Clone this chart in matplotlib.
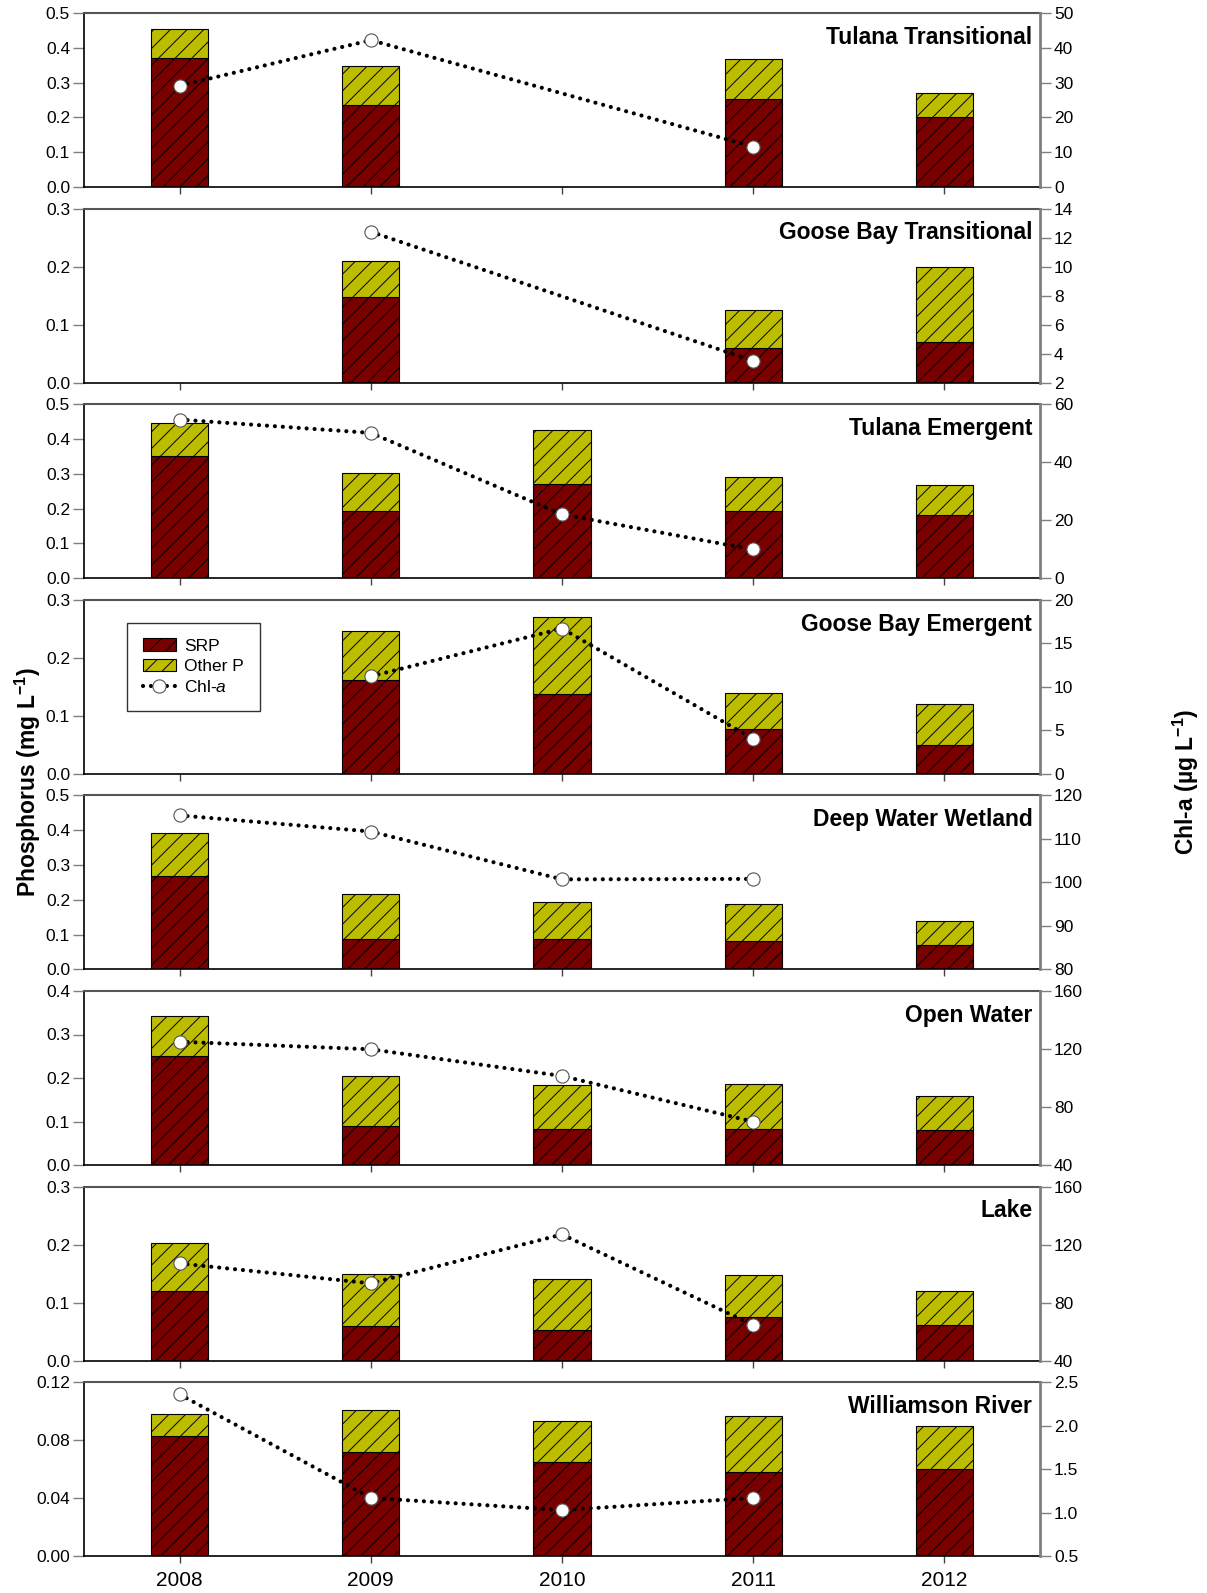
import numpy as np
import matplotlib.pyplot as plt

plt.rcParams['font.family'] = ['Liberation Sans', 'DejaVu Sans']
plt.rcParams['mathtext.fontset'] = 'custom'
plt.rcParams['mathtext.rm'] = 'Liberation Sans'
plt.rcParams['mathtext.it'] = 'Liberation Sans:italic'
plt.rcParams['mathtext.bf'] = 'Liberation Sans:bold'
plt.rcParams['hatch.linewidth'] = 0.7

nan = np.nan
years = [2008, 2009, 2010, 2011, 2012]
sites = ['Tulana Transitional', 'Goose Bay Transitional', 'Tulana Emergent',
         'Goose Bay Emergent', 'Deep Water Wetland', 'Open Water', 'Lake',
         'Williamson River']

# SRP and total P (mg/L), Chl-a (ug/L); nan = no sample
srp = [[0.370, 0.235, nan, 0.254, 0.201],
       [nan, 0.147, nan, 0.060, 0.070],
       [0.352, 0.192, 0.272, 0.192, 0.181],
       [nan, 0.162, 0.137, 0.078, 0.050],
       [0.267, 0.088, 0.086, 0.082, 0.069],
       [0.250, 0.090, 0.082, 0.082, 0.080],
       [0.120, 0.060, 0.053, 0.076, 0.061],
       [0.083, 0.072, 0.065, 0.058, 0.060]]
total_p = [[0.453, 0.347, nan, 0.367, 0.270],
           [nan, 0.210, nan, 0.125, 0.200],
           [0.445, 0.303, 0.425, 0.292, 0.269],
           [nan, 0.246, 0.270, 0.140, 0.120],
           [0.392, 0.216, 0.195, 0.189, 0.138],
           [0.342, 0.204, 0.184, 0.186, 0.159],
           [0.202, 0.149, 0.140, 0.147, 0.120],
           [0.098, 0.101, 0.093, 0.097, 0.090]]
chla = [[29.1, 42.2, nan, 11.6, nan],
        [nan, 12.4, nan, 3.5, nan],
        [54.7, 50.1, 22.0, 9.9, nan],
        [nan, 11.2, 16.7, 4.0, nan],
        [115.4, 111.7, 100.7, 100.8, nan],
        [125.0, 119.8, 101.4, 69.9, nan],
        [107.0, 93.3, 127.0, 64.5, nan],
        [2.36, 1.17, 1.03, 1.17, nan]]

p_ticks = [[0, 0.1, 0.2, 0.3, 0.4, 0.5],
           [0, 0.1, 0.2, 0.3],
           [0, 0.1, 0.2, 0.3, 0.4, 0.5],
           [0, 0.1, 0.2, 0.3],
           [0, 0.1, 0.2, 0.3, 0.4, 0.5],
           [0, 0.1, 0.2, 0.3, 0.4],
           [0, 0.1, 0.2, 0.3],
           [0, 0.04, 0.08, 0.12]]
p_fmt = ['%.1f'] * 7 + ['%.2f']
chl_ticks = [[0, 10, 20, 30, 40, 50],
             [2, 4, 6, 8, 10, 12, 14],
             [0, 20, 40, 60],
             [0, 5, 10, 15, 20],
             [80, 90, 100, 110, 120],
             [40, 80, 120, 160],
             [40, 80, 120, 160],
             [0.5, 1.0, 1.5, 2.0, 2.5]]
chl_fmt = ['%d'] * 7 + ['%.1f']

srp_col = '#7a0000'
oth_col = '#bdbd00'
grey = '#7f7f7f'

W, H = 1207, 1593
fig = plt.figure(figsize=(W / 100, H / 100), dpi=100)

x0, x1 = 84, 1040
top0, step, ph = 13, 195.6, 174
x = np.array(years, dtype=float)

for i, name in enumerate(sites):
    top = top0 + i * step
    ax = fig.add_axes([x0 / W, 1 - (top + ph) / H, (x1 - x0) / W, ph / H])
    s = np.array(srp[i])
    t = np.array(total_p[i])
    c = np.array(chla[i])
    ok = ~np.isnan(s)
    b1 = ax.bar(x[ok], s[ok], 0.3, color=srp_col, edgecolor='black', lw=0.8,
                hatch='//', label='SRP', zorder=2)
    b2 = ax.bar(x[ok], t[ok] - s[ok], 0.3, bottom=s[ok], color=oth_col,
                edgecolor='black', lw=0.8, hatch='//', label='Other P', zorder=2)
    ax.set_xlim(2007.5, 2012.5)
    ax.set_ylim(p_ticks[i][0], p_ticks[i][-1])
    ax.set_yticks(p_ticks[i])
    ax.set_yticklabels([p_fmt[i] % v for v in p_ticks[i]])
    ax.set_xticks(years)
    if i == len(sites) - 1:
        ax.set_xticklabels([str(y) for y in years], fontsize=15)
    else:
        ax.set_xticklabels([])
    ax.tick_params(axis='y', direction='out', length=8, width=1, color=grey,
                   labelsize=12.5, pad=2)
    ax.tick_params(axis='x', direction='out', length=5, width=1, color='#444444',
                   pad=6)
    ax.spines['left'].set_linewidth(1.2)
    ax.spines['bottom'].set_linewidth(1.2)
    ax.spines['top'].set_color('#555555')
    ax.spines['top'].set_linewidth(1.5)
    ax.spines['right'].set_visible(False)

    ax2 = ax.twinx()
    m = ~np.isnan(c)
    ln, = ax2.plot(x[m], c[m], color='black', lw=3, linestyle=(0, (0.01, 1.9)),
                   dash_capstyle='round', marker='o', ms=9.5, mfc='white',
                   mec='#555555', mew=0.8, label='Chl-$\\mathit{a}$', zorder=3)
    ax2.set_xlim(2007.5, 2012.5)
    ax2.set_ylim(chl_ticks[i][0], chl_ticks[i][-1])
    ax2.set_yticks(chl_ticks[i])
    ax2.set_yticklabels([chl_fmt[i] % v for v in chl_ticks[i]])
    ax2.tick_params(axis='y', direction='out', length=8, width=1, color=grey,
                    labelsize=12.5, pad=2)
    for sp in ['left', 'top', 'bottom']:
        ax2.spines[sp].set_visible(False)
    ax2.spines['right'].set_color(grey)
    ax2.spines['right'].set_linewidth(2)

    ax2.text(0.992, 0.86, name, transform=ax2.transAxes, ha='right', va='center',
             fontsize=16.5, fontweight='bold')

    if name == 'Goose Bay Emergent':
        leg = ax2.legend([b1, b2, ln], ['SRP', 'Other P', 'Chl-$\\mathit{a}$'],
                         loc='upper left', bbox_to_anchor=(0.045, 0.868),
                         borderaxespad=0, fancybox=False, edgecolor='black',
                         fontsize=12.5, handlelength=1.9, handletextpad=0.5,
                         labelspacing=0.3, borderpad=0.9)
        leg.get_frame().set_linewidth(1)

fig.text(28 / W, 1 - 782 / H, 'Phosphorus (mg L$^{\\mathbf{-1}}$)', rotation=90,
         ha='center', va='center', fontsize=16.5, fontweight='bold')
fig.text(1186 / W, 1 - 782 / H, 'Chl-a (\u00b5g L$^{\\mathbf{-1}}$)', rotation=90,
         ha='center', va='center', fontsize=16.5, fontweight='bold')

plt.savefig('out.png', dpi=100)
